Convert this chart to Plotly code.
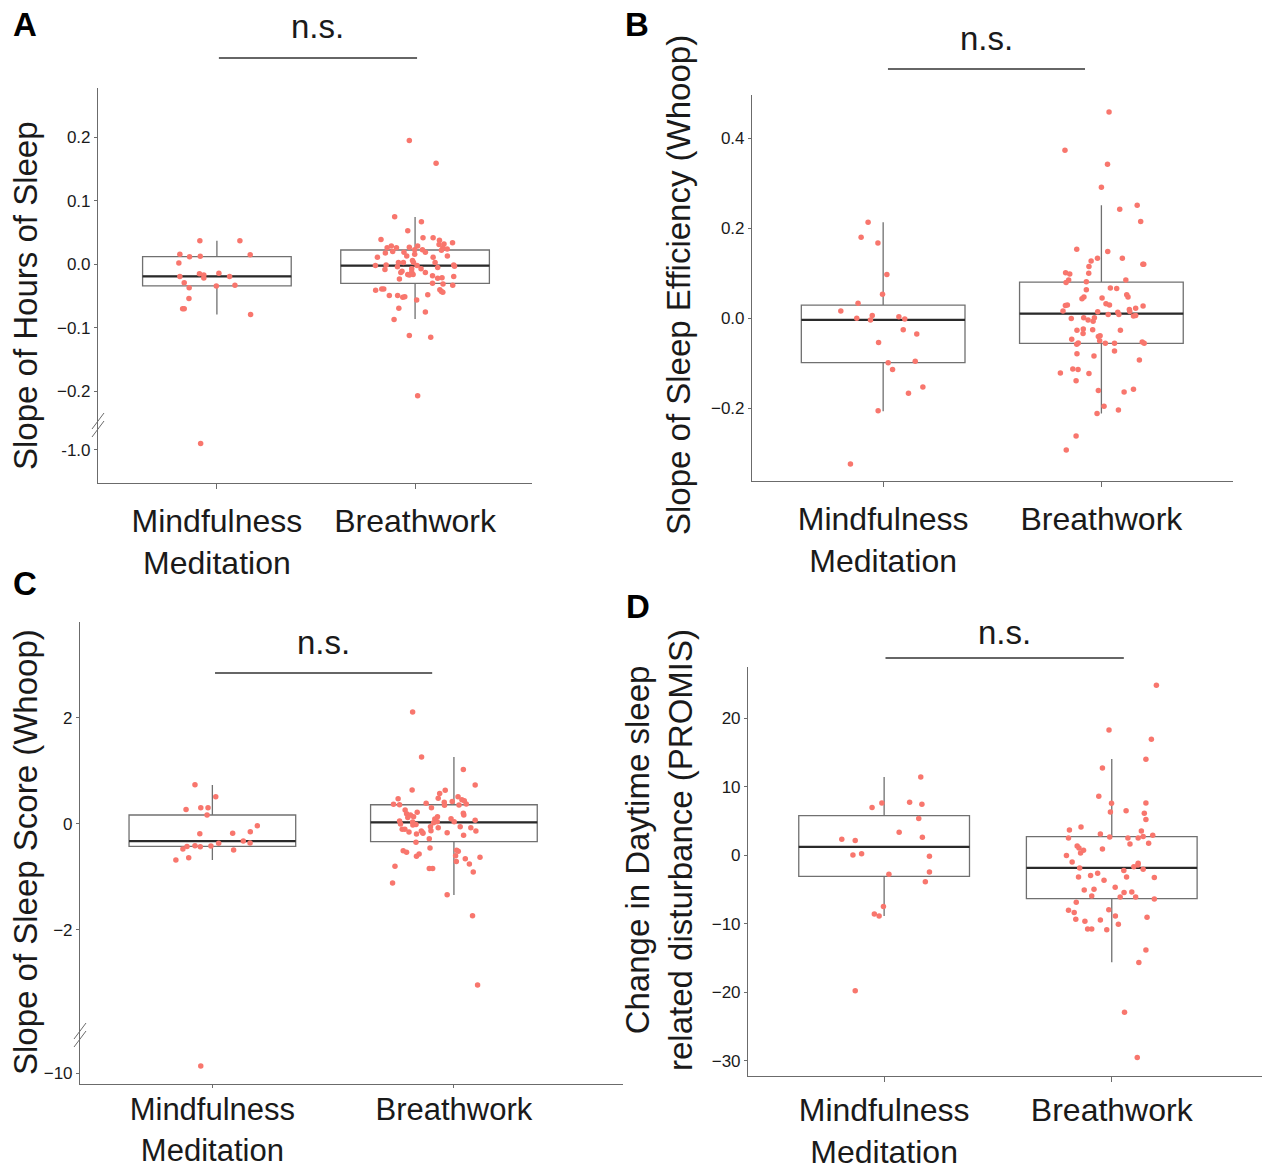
import plotly.graph_objects as go

W, H = 1266, 1173
FONT = "Liberation Sans, Arial, Helvetica, sans-serif"
PT_COLOR = "#F8766D"

categories = ["Mindfulness<br>Meditation", "Breathwork"]

# ---------------- Panel A: Slope of Hours of Sleep ----------------
A_mind = [0.037, 0.037, 0.016, 0.015, 0.012, 0.0125, 0.002, -0.015, -0.017, -0.0215,
          -0.014, -0.019, -0.019, -0.029, -0.034, -0.033, -0.037, -0.054, -0.070, -0.070,
          -0.079, -0.99]
A_mind_jit = [-0.086, 0.116, -0.187, 0.168, -0.138, -0.084, -0.192, -0.088, -0.066, -0.066,
              0.010, -0.187, 0.064, -0.165, -0.003, 0.091, -0.140, -0.141, -0.173, -0.165,
              0.170, -0.082]
A_breath = [0.195, 0.159, 0.075, 0.067, 0.053, 0.039, 0.042, 0.042, 0.038, 0.032,
            0.034, 0.031, 0.029, 0.026, 0.026, 0.027, 0.029, 0.026, 0.024, 0.023,
            0.023, 0.022, 0.018, 0.020, 0.019, 0.019, 0.016, 0.013, 0.011, 0.011,
            0.013, 0.006, 0.003, 0.003, 0.003, 0.003, -0.002, -0.001, -0.004, -0.002,
            -0.001, -0.003, -0.005, -0.008, -0.007, -0.007, -0.011, -0.012, -0.013, -0.016,
            -0.017, -0.016, -0.013, -0.018, -0.019, -0.021, -0.022, -0.023, -0.030, -0.031,
            -0.033, -0.041, -0.039, -0.039, -0.040, -0.043, -0.044, -0.049, -0.049, -0.052,
            -0.051, -0.056, -0.048, -0.069, -0.075, -0.087, -0.112, -0.115, -0.207]
A_breath_jit = [-0.029, 0.106, -0.103, 0.032, -0.037, -0.172, 0.040, 0.091, 0.123, 0.146,
                0.189, 0.121, -0.120, -0.141, -0.094, -0.029, 0.013, 0.140, 0.162, -0.002,
                0.037, 0.133, -0.150, -0.113, -0.056, 0.052, -0.002, -0.042, -0.190, 0.091,
                0.163, -0.013, -0.008, -0.084, -0.059, 0.101, -0.200, -0.146, -0.089, 0.010,
                0.195, 0.199, 0.114, -0.152, -0.017, 0.030, -0.066, -0.017, -0.072, -0.037,
                -0.029, -0.010, 0.052, 0.088, 0.195, 0.136, 0.114, -0.079, 0.088, 0.141,
                0.190, -0.199, -0.168, -0.158, 0.125, 0.133, 0.140, -0.130, -0.088, -0.062,
                -0.052, 0.008, 0.064, -0.082, 0.052, -0.106, -0.029, 0.079, 0.013]
A_q1 = [-0.034, -0.030]
A_med = [-0.019, -0.002]
A_q3 = [0.012, 0.0225]
A_lo = [-0.079, -0.086]
A_hi = [0.037, 0.0745]
A_ticks = [0.2, 0.1, 0.0, -0.1, -0.2]
A_ticktext = ["0.2", "0.1", "0.0", "\u22120.1", "\u22120.2"]
A_low_ticks = [-1.0]
A_low_ticktext = ["-1.0"]

# ---------------- Panel B: Slope of Sleep Efficiency ----------------
B_mind = [0.213, 0.180, 0.167, 0.097, 0.053, 0.033, 0.016, 0.000, 0.006, -0.004,
          0.003, -0.002, -0.026, -0.035, -0.054, -0.099, -0.096, -0.114, -0.153, -0.167,
          -0.206, -0.324]
B_mind_jit = [-0.069, -0.101, -0.024, 0.017, -0.003, -0.115, -0.194, -0.121, -0.050, -0.058,
              0.072, 0.099, 0.092, 0.154, -0.021, 0.023, 0.147, 0.043, 0.182, 0.116,
              -0.023, -0.150]
B_breath = [0.458, 0.373, 0.342, 0.291, 0.242, 0.251, 0.215, 0.153, 0.148, 0.133,
            0.133, 0.127, 0.120, 0.120, 0.115, 0.100, 0.101, 0.098, 0.085, 0.079,
            0.085, 0.081, 0.067, 0.066, 0.063, 0.052, 0.047, 0.047, 0.043, 0.045,
            0.032, 0.029, 0.028, 0.029, 0.027, 0.016, 0.014, 0.013, 0.008, 0.008,
            0.019, 0.015, 0.022, 0.005, 0.006, -0.001, 0.001, -0.004, 0.001, -0.007,
            -0.027, -0.024, -0.026, -0.027, -0.034, -0.041, -0.039, -0.047, -0.050, -0.055,
            -0.058, -0.056, -0.056, -0.053, -0.056, -0.073, -0.079, -0.093, -0.084, -0.122,
            -0.113, -0.114, -0.123, -0.139, -0.158, -0.164, -0.161, -0.196, -0.204, -0.212,
            -0.262, -0.293]
B_breath_jit = [0.035, -0.167, 0.028, 0.000, 0.084, 0.164, 0.180, -0.113, 0.029, -0.018,
                0.096, -0.047, 0.190, 0.194, -0.057, -0.058, -0.164, -0.145, -0.150, -0.162,
                0.112, -0.069, 0.041, 0.070, -0.069, 0.116, 0.122, -0.080, -0.089, 0.003,
                0.021, 0.037, -0.165, -0.156, 0.191, -0.176, -0.017, 0.075, 0.080, 0.031,
                0.128, 0.130, 0.157, 0.147, 0.157, -0.138, -0.081, -0.061, -0.032, -0.038,
                -0.112, -0.083, -0.040, 0.087, -0.084, -0.014, -0.006, -0.136, -0.008, -0.106,
                -0.113, 0.018, 0.060, 0.187, 0.196, 0.060, -0.112, 0.174, -0.034, -0.188,
                -0.131, -0.107, -0.057, -0.116, 0.147, 0.104, -0.014, 0.012, 0.078, -0.020,
                -0.116, -0.161]
B_q1 = [-0.099, -0.056]
B_med = [-0.004, 0.010]
B_q3 = [0.029, 0.080]
B_lo = [-0.207, -0.212]
B_hi = [0.213, 0.251]
B_ticks = [0.4, 0.2, 0.0, -0.2]
B_ticktext = ["0.4", "0.2", "0.0", "\u22120.2"]

# ---------------- Panel C: Slope of Sleep Score ----------------
C_mind = [0.736, 0.509, 0.270, 0.302, 0.302, 0.164, -0.189, -0.182, -0.151, -0.038,
          -0.327, -0.365, -0.371, -0.428, -0.415, -0.434, -0.421, -0.478, -0.497, -0.642,
          -0.686, -9.86]
C_mind_jit = [-0.072, 0.014, -0.109, -0.048, -0.018, -0.022, -0.052, 0.084, 0.157, 0.186,
              0.128, 0.156, 0.026, -0.105, -0.072, -0.050, -0.006, -0.122, 0.088, -0.098,
              -0.151, -0.048]
C_breath = [2.107, 1.258, 1.025, 0.635, 0.629, 0.730, 0.472, 0.572, 0.478, 0.509,
            0.365, 0.358, 0.384, 0.403, 0.421, 0.453, 0.434, 0.371, 0.346, 0.352,
            0.302, 0.258, 0.214, 0.189, 0.164, 0.132, 0.119, 0.132, 0.088, 0.195,
            0.164, 0.094, 0.050, -0.006, 0.031, 0.019, 0.038, 0.038, 0.063, -0.025,
            -0.013, -0.107, -0.157, -0.057, -0.075, -0.057, -0.075, -0.138, -0.107, -0.138,
            -0.182, -0.195, -0.164, -0.170, -0.132, -0.220, -0.352, -0.283, -0.459, -0.509,
            -0.541, -0.616, -0.572, -0.503, -0.522, -0.604, -0.660, -0.635, -0.711, -0.761,
            -0.805, -0.843, -0.843, -0.912, -1.119, -1.340, -1.736, -3.044]
C_breath_jit = [-0.171, -0.134, 0.039, -0.173, -0.036, 0.088, -0.231, -0.059, -0.065, 0.017,
                -0.250, -0.225, -0.115, -0.040, -0.007, 0.033, 0.043, 0.051, -0.039, 0.021,
                -0.093, -0.202, -0.152, -0.196, -0.180, -0.167, -0.191, -0.068, -0.079, 0.039,
                0.041, -0.012, -0.225, -0.221, -0.171, -0.084, -0.069, 0.001, 0.088, -0.170,
                -0.157, -0.203, -0.186, -0.097, -0.065, 0.026, 0.070, 0.091, -0.214, -0.135,
                -0.128, -0.155, -0.130, -0.028, -0.095, 0.040, -0.157, -0.102, -0.099, -0.210,
                -0.196, -0.155, -0.144, 0.011, 0.018, 0.007, 0.047, 0.108, 0.010, 0.064,
                -0.244, -0.102, -0.088, 0.080, -0.254, -0.028, 0.077, 0.098]
C_q1 = [-0.428, -0.340]
C_med = [-0.327, 0.025]
C_q3 = [0.164, 0.358]
C_lo = [-0.686, -1.346]
C_hi = [0.730, 1.258]
C_ticks = [2, 0, -2]
C_ticktext = ["2", "0", "\u22122"]
C_low_ticks = [-10]
C_low_ticktext = ["\u221210"]

# ---------------- Panel D: Change in Daytime sleep related disturbance ----------------
D_mind = [11.44, 7.64, 7.74, 7.45, 6.96, 5.36, 3.36, 2.63, 2.34, 2.14,
          0.05, 0.24, -0.15, -2.77, -2.43, -3.85, -7.50, -8.57, -8.86, -19.77]
D_mind_jit = [0.161, -0.010, 0.112, 0.166, -0.053, 0.152, 0.066, 0.168, -0.186, -0.127,
              -0.137, -0.099, 0.199, 0.021, 0.199, 0.181, -0.003, -0.043, -0.022, -0.127]
D_breath = [24.83, 18.31, 16.94, 14.02, 12.76, 8.62, 7.59, 7.64, 6.33, 6.52,
            6.13, 5.21, 4.14, 3.70, 3.55, 3.12, 2.92, 2.53, 2.68, 2.53,
            2.73, 2.53, 1.75, 1.66, 1.36, 1.07, 0.93, 0.73, 0.34, -0.05,
            -0.97, -1.17, -1.41, -1.66, -1.85, -2.04, -2.24, -2.63, -2.97, -3.16,
            -3.16, -3.26, -3.65, -4.67, -5.06, -4.97, -5.45, -5.36, -5.94, -6.09,
            -6.09, -6.38, -6.86, -8.03, -8.37, -7.94, -8.86, -9.06, -9.35, -9.64,
            -9.45, -10.08, -10.76, -10.76, -10.86, -13.83, -15.68, -22.93, -29.55]
D_breath_jit = [0.196, -0.012, 0.174, 0.150, -0.041, -0.057, -0.001, 0.150, -0.006, 0.063,
                0.143, 0.150, -0.135, -0.186, 0.130, -0.050, 0.180, -0.190, -0.009, 0.071,
                0.138, 0.116, 0.162, 0.080, -0.152, -0.144, -0.041, -0.124, -0.137, -0.199,
                -0.174, 0.116, 0.115, 0.097, -0.141, 0.138, 0.053, -0.062, -0.093, -0.146,
                0.065, 0.187, -0.034, 0.015, -0.121, -0.078, 0.054, 0.088, -0.088, 0.037,
                0.105, 0.187, -0.156, -0.190, -0.165, -0.013, 0.016, 0.155, -0.158, -0.118,
                -0.050, 0.029, -0.106, -0.088, -0.022, 0.150, 0.119, 0.056, 0.112]
D_q1 = [-3.07, -6.33]
D_med = [1.22, -1.85]
D_q3 = [5.79, 2.73]
D_lo = [-8.86, -15.63]
D_hi = [11.44, 14.07]
D_ticks = [20, 10, 0, -10, -20, -30]
D_ticktext = ["20", "10", "0", "\u221210", "\u221220", "\u221230"]

# ---------------- helpers ----------------
def px(x):
    return x / W


def py(y):
    return 1 - y / H


AXCOL = "#6b6b6b"
TXT = "#1a1a1a"

fig = go.Figure()
layout_axes = {}
annotations = []
shapes = []


def axis_style(**kw):
    d = dict(showline=True, linecolor=AXCOL, linewidth=1.1, ticks="outside",
             tickcolor=AXCOL, ticklen=4, tickwidth=1, showgrid=False, zeroline=False,
             automargin=False, fixedrange=True,
             tickfont=dict(family=FONT, size=17, color=TXT))
    d.update(kw)
    return d


def add_panel(n_x, n_y, n_ylow, xdom, ydom, split, xr, yr, yr_low, width,
              q1, med, q3, lo, hi, groups, ticks, ticktext, low_ticks, low_ticktext,
              xticklen, xstandoff, xfont):
    xk = "x" if n_x == 1 else f"x{n_x}"
    yk = "y" if n_y == 1 else f"y{n_y}"
    ylk = f"y{n_ylow}" if n_ylow else None
    pos = [0, 1]
    fig.add_trace(go.Box(x=pos, q1=q1, median=med, q3=q3, lowerfence=lo, upperfence=hi,
                         width=width, whiskerwidth=0, boxpoints=False,
                         fillcolor="rgba(255,255,255,0)",
                         line=dict(color="#707070", width=1.3),
                         xaxis=xk, yaxis=yk, hoverinfo="skip", showlegend=False))
    mx, my = [], []
    for p, m in zip(pos, med):
        mx += [p - width / 2, p + width / 2, None]
        my += [m, m, None]
    fig.add_trace(go.Scatter(x=mx, y=my, mode="lines", line=dict(color="#2a2a2a", width=2.2),
                             xaxis=xk, yaxis=yk, hoverinfo="skip", showlegend=False))
    for p, (vals, jit) in zip(pos, groups):
        up_x = [p + j for v, j in zip(vals, jit) if v >= yr[0]]
        up_y = [v for v, j in zip(vals, jit) if v >= yr[0]]
        fig.add_trace(go.Scatter(x=up_x, y=up_y, mode="markers",
                                 marker=dict(color=PT_COLOR, size=5.5, line=dict(width=0)),
                                 xaxis=xk, yaxis=yk, hoverinfo="skip", showlegend=False))
        if ylk:
            lo_x = [p + j for v, j in zip(vals, jit) if v < yr[0]]
            lo_y = [v for v, j in zip(vals, jit) if v < yr[0]]
            fig.add_trace(go.Scatter(x=lo_x, y=lo_y, mode="markers",
                                     marker=dict(color=PT_COLOR, size=5.5, line=dict(width=0)),
                                     xaxis=xk, yaxis=ylk, hoverinfo="skip", showlegend=False))
    xname = "xaxis" if n_x == 1 else f"xaxis{n_x}"
    yname = "yaxis" if n_y == 1 else f"yaxis{n_y}"
    bottom = split if ylk else ydom[1]
    layout_axes[xname] = axis_style(domain=[px(xdom[0]), px(xdom[1])], range=list(xr),
                                    anchor=ylk if ylk else yk, tickvals=pos, ticktext=categories,
                                    ticklen=xticklen, ticklabelstandoff=xstandoff,
                                    tickfont=dict(family=FONT, size=xfont, color=TXT))
    layout_axes[yname] = axis_style(domain=[py(bottom), py(ydom[0])], range=list(yr),
                                    anchor=xk, tickvals=ticks, ticktext=ticktext, ticklen=3)
    if ylk:
        layout_axes[f"yaxis{n_ylow}"] = axis_style(domain=[py(ydom[1]), py(split)],
                                                   range=list(yr_low), anchor=xk,
                                                   tickvals=low_ticks, ticktext=low_ticktext,
                                                   ticklen=3)
        x0 = xdom[0]
        for dy in (-4, 4):
            shapes.append(dict(type="line", xref="paper", yref="paper",
                               x0=px(x0 - 6), y0=py(split + 8 + dy),
                               x1=px(x0 + 6), y1=py(split - 8 + dy),
                               line=dict(color=AXCOL, width=1)))
    return xk


panel_specs = [
    dict(n_x=1, n_y=1, n_ylow=2, xdom=(98, 532), ydom=(88, 483), split=425,
         xr=(-0.6, 1.59), yr=(-0.253, 0.2776), yr_low=(-1.052, -0.961), width=0.75,
         q1=A_q1, med=A_med, q3=A_q3, lo=A_lo, hi=A_hi,
         groups=[(A_mind, A_mind_jit), (A_breath, A_breath_jit)],
         ticks=A_ticks, ticktext=A_ticktext, low_ticks=A_low_ticks, low_ticktext=A_low_ticktext,
         xticklen=5, xstandoff=5, xfont=32),
    dict(n_x=2, n_y=3, n_ylow=None, xdom=(752, 1233), ydom=(95, 481), split=None,
         xr=(-0.601, 1.603), yr=(-0.362, 0.496), yr_low=None, width=0.75,
         q1=B_q1, med=B_med, q3=B_q3, lo=B_lo, hi=B_hi,
         groups=[(B_mind, B_mind_jit), (B_breath, B_breath_jit)],
         ticks=B_ticks, ticktext=B_ticktext, low_ticks=None, low_ticktext=None,
         xticklen=5, xstandoff=5, xfont=32),
    dict(n_x=3, n_y=4, n_ylow=5, xdom=(80, 623), ydom=(622, 1084), split=1035,
         xr=(-0.548, 1.70), yr=(-3.987, 3.806), yr_low=(-10.202, -9.277), width=0.69,
         q1=C_q1, med=C_med, q3=C_q3, lo=C_lo, hi=C_hi,
         groups=[(C_mind, C_mind_jit), (C_breath, C_breath_jit)],
         ticks=C_ticks, ticktext=C_ticktext, low_ticks=C_low_ticks, low_ticktext=C_low_ticktext,
         xticklen=3, xstandoff=-5, xfont=31),
    dict(n_x=4, n_y=6, n_ylow=None, xdom=(748, 1262), ydom=(667, 1076), split=None,
         xr=(-0.598, 1.66), yr=(-32.24, 27.5), yr_low=None, width=0.75,
         q1=D_q1, med=D_med, q3=D_q3, lo=D_lo, hi=D_hi,
         groups=[(D_mind, D_mind_jit), (D_breath, D_breath_jit)],
         ticks=D_ticks, ticktext=D_ticktext, low_ticks=None, low_ticktext=None,
         xticklen=5, xstandoff=1, xfont=32),
]

xkeys = [add_panel(**s) for s in panel_specs]

# significance brackets: (x axis, x0, x1 in category units, bracket y px, text y px)
sig = [("x", 0.01, 1.01, 58, 27), ("x2", 0.022, 0.925, 69, 38),
       ("x3", 0.011, 0.91, 673, 642), ("x4", 0.006, 1.053, 658, 632)]
for xk, a, b, yb, yt in sig:
    shapes.append(dict(type="line", xref=xk, yref="paper", x0=a, x1=b, y0=py(yb), y1=py(yb),
                       line=dict(color="#333333", width=1.6)))
    annotations.append(dict(text="n.s.", xref=xk, yref="paper", x=(a + b) / 2, y=py(yt),
                            showarrow=False, xanchor="center", yanchor="middle",
                            font=dict(family=FONT, size=33, color=TXT)))

# panel letters
for lab, x, y in [("A", 25, 24), ("B", 637, 24), ("C", 25, 583), ("D", 638, 606)]:
    annotations.append(dict(text=f"<b>{lab}</b>", xref="paper", yref="paper", x=px(x), y=py(y),
                            showarrow=False, xanchor="center", yanchor="middle",
                            font=dict(family=FONT, size=33, color="#000000")))

# y-axis titles
for txt, x, y in [("Slope of Hours of Sleep", 25, 296),
                  ("Slope of Sleep Efficiency (Whoop)", 679, 285),
                  ("Slope of Sleep Score (Whoop)", 25, 852),
                  ("Change in Daytime sleep<br>related disturbance (PROMIS)", 659, 850)]:
    annotations.append(dict(text=txt, xref="paper", yref="paper", x=px(x), y=py(y),
                            showarrow=False, textangle=-90, xanchor="center", yanchor="middle",
                            font=dict(family=FONT, size=33, color=TXT)))

fig.update_layout(width=W, height=H, autosize=False, margin=dict(l=0, r=0, t=0, b=0, autoexpand=False),
                  paper_bgcolor="white", plot_bgcolor="white", showlegend=False,
                  boxmode="overlay", annotations=annotations, shapes=shapes, **layout_axes)

fig.write_html("out.html",
               config={"displayModeBar": False, "responsive": False},
               post_script="document.body.style.margin='0px';document.body.style.overflow='hidden';")
